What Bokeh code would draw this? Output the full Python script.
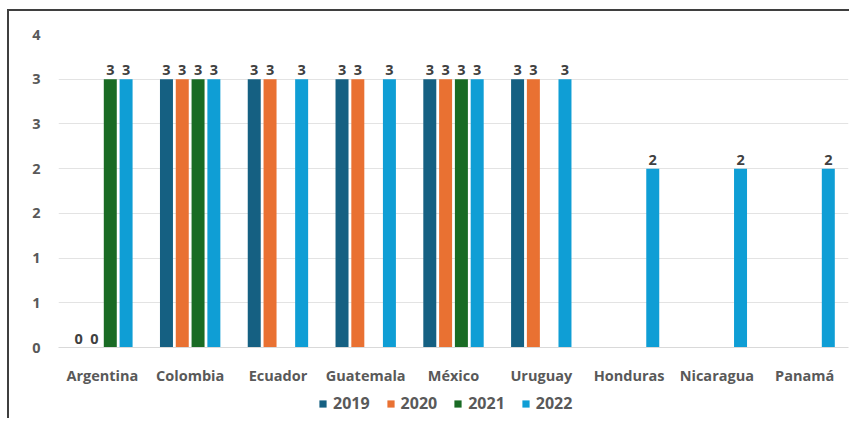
from bokeh.plotting import figure
from bokeh.models import FactorRange, ColumnDataSource, Legend, LegendItem, FixedTicker, LabelSet, Div
from bokeh.core.properties import value
from bokeh.layouts import column, row
from bokeh.transform import dodge
from bokeh.embed import file_html
from bokeh.resources import INLINE

countries = ["Argentina", "Colombia", "Ecuador", "Guatemala", "México",
             "Uruguay", "Honduras", "Nicaragua", "Panamá"]
years = ["2019", "2020", "2021", "2022"]
v2019 = [0, 3, 3, 3, 3, 3, None, None, None]
v2020 = [0, 3, 3, 3, 3, 3, None, None, None]
v2021 = [3, 3, None, None, 3, None, None, None, None]
v2022 = [3, 3, 3, 3, 3, 3, 2, 2, 2]
colors = ["#156082", "#E97132", "#196B24", "#0F9ED5"]
y_ticks = [0, 0.5, 1.0, 1.5, 2.0, 2.5, 3.0, 3.5]
y_tick_labels = ["0", "1", "1", "2", "2", "3", "3", "4"]

FONT = "Open Sans"
TXT = "#595959"
FS = "14.5px"

p = figure(x_range=FactorRange(*countries), y_range=(0, 3.5),
           width=840, height=377, output_backend="svg", toolbar_location=None,
           min_border_left=49, min_border_right=1, min_border_top=23, min_border_bottom=41)
p.x_range.range_padding = 0
p.outline_line_color = None

series = [v2019, v2020, v2021, v2022]
offsets = [-0.27, -0.09, 0.09, 0.27]
for yr, vals, col, off in zip(years, series, colors, offsets):
    xs = [c for c, v in zip(countries, vals) if v is not None]
    ys = [v for v in vals if v is not None]
    src = ColumnDataSource(dict(x=xs, top=ys, lab=[str(int(round(v))) for v in ys]))
    p.vbar(x=dodge("x", off, range=p.x_range), top="top", width=0.148,
           source=src, fill_color=col, line_color=None)
    lbl = LabelSet(x=dodge("x", off, range=p.x_range), y="top", text="lab", source=src,
                   text_align="center", text_baseline="bottom", y_offset=4,
                   text_font=value(FONT), text_font_style="bold", text_font_size=FS,
                   text_color="#404040")
    p.add_layout(lbl)

p.yaxis.ticker = FixedTicker(ticks=y_ticks)
p.yaxis.major_label_overrides = {t: l for t, l in zip(y_ticks, y_tick_labels)}
p.yaxis.axis_line_color = None
p.yaxis.major_tick_line_color = None
p.yaxis.minor_tick_line_color = None
p.yaxis.major_label_text_font = FONT
p.yaxis.major_label_text_font_style = "bold"
p.yaxis.major_label_text_font_size = FS
p.yaxis.major_label_text_color = TXT
p.yaxis.major_label_standoff = 12

p.xaxis.axis_line_color = "#d9d9d9"
p.xaxis.major_tick_line_color = None
p.xaxis.major_label_text_font = FONT
p.xaxis.major_label_text_font_style = "bold"
p.xaxis.major_label_text_font_size = FS
p.xaxis.major_label_text_color = TXT
p.xaxis.major_label_standoff = 12

p.xgrid.grid_line_color = None
p.ygrid.grid_line_color = "#e3e3e3"
p.ygrid.grid_line_width = 1

# legend in its own strip below the chart
lf = figure(width=840, height=30, output_backend="svg", toolbar_location=None,
            x_axis_type=None, y_axis_type=None, x_range=(0, 1), y_range=(0, 1),
            min_border=0)
lf.outline_line_color = None
lf.xgrid.grid_line_color = None
lf.ygrid.grid_line_color = None
items = []
for yr, col in zip(years, colors):
    r = lf.vbar(x=[5], top=[-1], width=0.1, fill_color=col, line_color=None)
    items.append(LegendItem(label=yr, renderers=[r]))
legend = Legend(items=items, orientation="horizontal", location=(260, 4),
                glyph_width=9, glyph_height=9, label_standoff=6, spacing=16,
                label_text_font=FONT, label_text_font_style="bold",
                label_text_font_size="16px", label_text_color=TXT,
                border_line_color=None, background_fill_alpha=0,
                padding=0, margin=0)
lf.add_layout(legend, "center")

# chart-area border (top and left edges)
vline = Div(text="", width=2, height=409, margin=0,
            styles={"background-color": "#3f3f3f"})
hline = Div(text="", width=840, height=2, margin=0,
            styles={"background-color": "#3f3f3f"})

layout = row(vline, column(hline, p, lf, spacing=0), spacing=0, margin=(9, 0, 0, 7))
open("out.html", "w").write(file_html(layout, INLINE))
